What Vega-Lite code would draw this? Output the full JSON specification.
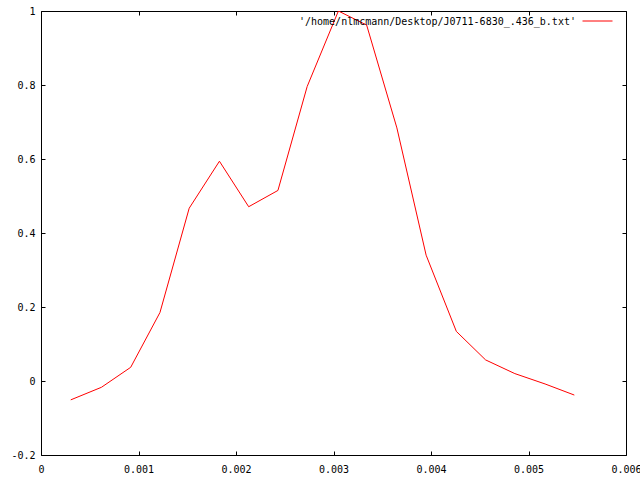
{
  "$schema": "https://vega.github.io/schema/vega-lite/v6.json",
  "width": 585,
  "height": 444,
  "autosize": {"type": "none"},
  "padding": {"left": 41, "top": 11, "right": 14, "bottom": 25},
  "background": "white",
  "config": {
    "view": {"stroke": "black", "strokeWidth": 1},
    "font": "DejaVu Sans Mono",
    "axis": {
      "grid": false,
      "domain": false,
      "tickColor": "black",
      "tickSize": -4,
      "labelFont": "DejaVu Sans Mono",
      "labelFontSize": 10,
      "labelColor": "black",
      "title": null
    }
  },
  "data": {
    "values": [
      {"x": 0.000305, "y": -0.051, "series": "'/home/nlmcmann/Desktop/J0711-6830_.436_b.txt'"},
      {"x": 0.00062, "y": -0.017, "series": "'/home/nlmcmann/Desktop/J0711-6830_.436_b.txt'"},
      {"x": 0.00092, "y": 0.037, "series": "'/home/nlmcmann/Desktop/J0711-6830_.436_b.txt'"},
      {"x": 0.00122, "y": 0.185, "series": "'/home/nlmcmann/Desktop/J0711-6830_.436_b.txt'"},
      {"x": 0.00152, "y": 0.467, "series": "'/home/nlmcmann/Desktop/J0711-6830_.436_b.txt'"},
      {"x": 0.00183, "y": 0.594, "series": "'/home/nlmcmann/Desktop/J0711-6830_.436_b.txt'"},
      {"x": 0.00213, "y": 0.471, "series": "'/home/nlmcmann/Desktop/J0711-6830_.436_b.txt'"},
      {"x": 0.00243, "y": 0.515, "series": "'/home/nlmcmann/Desktop/J0711-6830_.436_b.txt'"},
      {"x": 0.00273, "y": 0.796, "series": "'/home/nlmcmann/Desktop/J0711-6830_.436_b.txt'"},
      {"x": 0.00305, "y": 1.0, "series": "'/home/nlmcmann/Desktop/J0711-6830_.436_b.txt'"},
      {"x": 0.00334, "y": 0.962, "series": "'/home/nlmcmann/Desktop/J0711-6830_.436_b.txt'"},
      {"x": 0.00365, "y": 0.684, "series": "'/home/nlmcmann/Desktop/J0711-6830_.436_b.txt'"},
      {"x": 0.00395, "y": 0.340, "series": "'/home/nlmcmann/Desktop/J0711-6830_.436_b.txt'"},
      {"x": 0.00426, "y": 0.134, "series": "'/home/nlmcmann/Desktop/J0711-6830_.436_b.txt'"},
      {"x": 0.00456, "y": 0.057, "series": "'/home/nlmcmann/Desktop/J0711-6830_.436_b.txt'"},
      {"x": 0.00486, "y": 0.020, "series": "'/home/nlmcmann/Desktop/J0711-6830_.436_b.txt'"},
      {"x": 0.00517, "y": -0.008, "series": "'/home/nlmcmann/Desktop/J0711-6830_.436_b.txt'"},
      {"x": 0.00547, "y": -0.038, "series": "'/home/nlmcmann/Desktop/J0711-6830_.436_b.txt'"}
    ]
  },
  "layer": [
    {
      "mark": {"type": "line", "strokeWidth": 1, "clip": true},
      "encoding": {
        "x": {
          "field": "x", "type": "quantitative",
          "scale": {"domain": [0, 0.006], "nice": false, "zero": false},
          "axis": {
            "orient": "bottom",
            "values": [0, 0.001, 0.002, 0.003, 0.004, 0.005, 0.006],
            "labelExpr": "toString(round(datum.value*1000)/1000)",
            "labelPadding": 13,
            "labelFlush": false,
            "labelOverlap": false
          }
        },
        "y": {
          "field": "y", "type": "quantitative",
          "scale": {"domain": [-0.2, 1], "nice": false, "zero": false},
          "axis": {
            "orient": "left",
            "values": [-0.2, 0, 0.2, 0.4, 0.6, 0.8, 1],
            "labelExpr": "toString(round(datum.value*10)/10)",
            "labelPadding": 10,
            "labelFlush": false,
            "labelOverlap": false
          }
        },
        "color": {
          "field": "series", "type": "nominal",
          "scale": {"range": ["#ff0000"]},
          "legend": {
            "orient": "none",
            "legendX": 258,
            "legendY": 1,
            "title": "'/home/nlmcmann/Desktop/J0711-6830_.436_b.txt'",
            "titleOrient": "left",
            "titleAnchor": "middle",
            "titleBaseline": "middle",
            "titleFont": "DejaVu Sans Mono",
            "titleFontSize": 10,
            "titleFontWeight": "normal",
            "titleColor": "black",
            "titlePadding": 6,
            "labelExpr": "''",
            "symbolType": "M-1,-0.4333H1",
            "symbolStrokeWidth": 1,
            "symbolStrokeColor": "#ff0000",
            "symbolFillColor": "transparent",
            "symbolOpacity": 1,
            "symbolSize": 900,
            "labelLimit": 0,
            "titleLimit": 600,
            "padding": 0
          }
        }
      }
    },
    {
      "mark": {"type": "line", "opacity": 0},
      "encoding": {
        "x": {
          "field": "x", "type": "quantitative",
          "scale": {"domain": [0, 0.006], "nice": false, "zero": false},
          "axis": {"orient": "top", "labels": false, "values": [0, 0.001, 0.002, 0.003, 0.004, 0.005, 0.006]}
        },
        "y": {
          "field": "y", "type": "quantitative",
          "scale": {"domain": [-0.2, 1], "nice": false, "zero": false},
          "axis": {"orient": "right", "labels": false, "values": [-0.2, 0, 0.2, 0.4, 0.6, 0.8, 1]}
        }
      }
    }
  ],
  "resolve": {"axis": {"x": "independent", "y": "independent"}}
}
